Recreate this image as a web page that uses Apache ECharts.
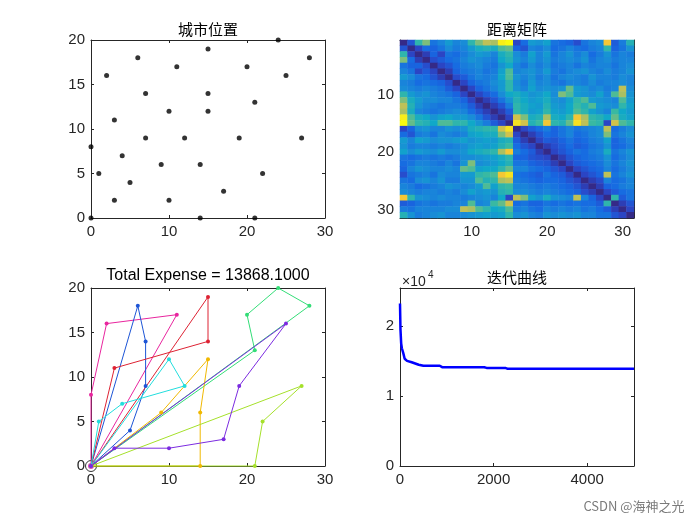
<!DOCTYPE html>
<html>
<head>
<meta charset="utf-8">
<script src="https://cdn.jsdelivr.net/npm/echarts@6/dist/echarts.min.js"></script>
<style>html,body{margin:0;background:#fff}#chart{width:700px;height:525px}</style>
</head>
<body>
<div id="chart"></div>
<script>
// city positions
const cityX = [24,15,6,28,11,20,2,25,7,15,21,10,15,3,7,12,19,27,0,4,9,14,1,22,5,17,3,10,0,14,21]
const cityY = [20,19,18,18,17,17,16,16,14,14,13,12,12,11,9,9,9,9,8,7,6,6,5,5,4,3,2,2,0,0,0]

// distance matrix, upper triangle (row i starts at column i), estimated from the colours
const distRows = [
  [0,6,20,24,10,12,15,12,13,20,24,27,26,33,34,4,9,15,14,16,10,9,8,5,10,12,13,30,7,11,19],
  [0,4,9,8,10,13,11,12,15,18,19,18,22,23,8,6,12,11,13,9,10,12,10,9,11,12,20,8,10,14],
  [0,3,8,4,10,9,11,13,15,14,12,18,20,13,11,16,12,15,10,12,14,11,13,9,11,14,10,12,11],
  [0,5,7,9,10,12,14,13,12,11,17,19,14,12,15,12,14,11,12,13,12,14,10,12,13,11,12,12],
  [0,4,6,9,11,12,13,11,10,14,17,12,10,13,11,13,10,11,12,10,12,11,12,12,10,12,13],
  [0,3,8,10,11,12,10,11,16,22,12,13,14,12,15,11,10,12,13,14,12,11,13,11,12,14],
  [0,5,7,10,12,11,12,17,22,14,12,14,11,13,10,12,13,12,11,14,12,12,11,13,12],
  [0,4,8,10,11,13,15,20,13,11,15,12,13,11,10,12,12,11,13,11,12,12,13,12],
  [0,4,8,10,12,15,20,14,12,16,13,14,13,14,23,15,14,12,13,11,12,27,13],
  [0,4,7,9,13,17,18,16,14,15,17,13,24,22,15,14,13,16,12,22,26,14],
  [0,3,6,10,14,19,17,15,16,18,14,13,16,20,22,15,14,13,12,22,15],
  [0,3,6,11,20,18,16,15,19,15,14,17,21,19,22,15,14,13,20,16],
  [0,3,7,20,18,15,16,20,16,15,17,22,20,16,14,12,21,17,15],
  [0,4,28,24,18,19,26,18,17,20,30,26,20,19,17,23,18,16],
  [0,32,28,19,21,30,20,19,23,32,27,21,20,4,28,22,20],
  [0,4,7,9,11,8,10,12,10,11,12,13,27,9,11,13],
  [0,3,6,9,8,10,12,9,10,12,13,24,10,12,14],
  [0,4,7,6,8,10,8,9,11,12,16,8,10,12],
  [0,3,5,7,9,7,8,10,11,14,8,9,11],
  [0,4,6,8,10,9,11,12,18,10,12,14],
  [0,3,6,8,9,10,11,14,9,11,13],
  [0,4,7,8,9,10,13,10,12,14],
  [0,4,6,8,9,12,9,11,13],
  [0,4,6,8,27,10,12,14],
  [0,3,5,12,9,10,12],
  [0,3,8,9,11,12],
  [0,4,7,9,10],
  [0,20,7,10],
  [0,3,6],
  [0,4],
  [0]
]

// vehicle routes, each leaves and returns to the depot
const routes = [
  { color: '#33dd77', stops: [[0,0],[21,13],[20,17],[24,20],[28,18],[0,0]] },
  { color: '#e8259e', stops: [[0,0],[0,8],[2,16],[11,17],[0,0]] },
  { color: '#1d55d6', stops: [[0,0],[6,18],[7,14],[7,9],[5,4],[0,0]] },
  { color: '#dd2233', stops: [[0,0],[3,11],[15,14],[15,19],[0,0]] },
  { color: '#22dddd', stops: [[0,0],[1,5],[4,7],[12,9],[10,12],[0,0]] },
  { color: '#f0b800', stops: [[0,0],[9,6],[15,12],[14,6],[14,0],[0,0]] },
  { color: '#a5e02a', stops: [[0,0],[27,9],[22,5],[21,0],[0,0]] },
  { color: '#7b2be0', stops: [[0,0],[3,2],[10,2],[17,3],[19,9],[25,16],[0,0]] }
]

// best cost per iteration
const iters = [0,10,25,40,70,100,150,250,400,500,850,900,1800,1850,2250,2300,5000]
const costs = [23200,19500,17500,16800,16100,15300,15000,14800,14450,14300,14300,14100,14100,14000,14000,13868,13868]

const cityIds = Array.from({ length: 31 }, (_, i) => String(i + 1))
// parula-like ramp, weighted towards the blues that dominate the matrix
const parula = ['#352a87','#2a47c8','#1768e2','#1a8ad8','#10a8c8','#3cbaa0','#a0c068','#f4c437','#f9fb0e']

const ink = '#262626'
const labelFont = { fontFamily: 'Liberation Sans, Arial, sans-serif', fontSize: 15, color: ink }
const grids = [
  { left: 91, top: 40, width: 234, height: 178 },
  { left: 400, top: 40, width: 234, height: 178 },
  { left: 91, top: 288, width: 234, height: 178 },
  { left: 400, top: 288, width: 234, height: 178 }
]

const line = { show: true, onZero: false, lineStyle: { color: ink, width: 1 } }
const tick = { show: true, inside: true, length: 3, lineStyle: { color: ink } }

const valueAxis = (g, pos, min, max, interval, fmt) => ({
  type: 'value', gridIndex: g, position: pos, min, max, interval,
  splitLine: { show: false }, axisLine: line, axisTick: tick,
  axisLabel: fmt ? { ...labelFont, margin: 6, formatter: fmt } : { show: false }
})
const catAxis = (g, pos, inverse, labels) => ({
  type: 'category', gridIndex: g, position: pos, data: cityIds, inverse,
  splitLine: { show: false }, axisLine: line,
  axisTick: { ...tick, alignWithLabel: true, interval: i => (i + 1) % 10 === 0 },
  axisLabel: labels ? { ...labelFont, margin: 6, interval: i => (i + 1) % 10 === 0 } : { show: false }
})

const cells = []
distRows.forEach((row, i) => row.forEach((v, k) => {
  const j = i + k
  cells.push([j, i, v])
  if (j !== i) cells.push([i, j, v])
}))

const txt = (x, y, text, size, extra) => ({
  type: 'text', x, y, silent: true,
  style: { text, fontSize: size, fill: '#000', align: 'center', verticalAlign: 'middle',
    fontFamily: 'Liberation Sans, Arial, sans-serif', ...extra }
})
const cjk = { fontFamily: '"Noto Sans CJK SC", sans-serif' }

const chart = echarts.init(document.getElementById('chart'))
chart.setOption({
  animation: false,
  grid: grids,
  xAxis: [
    valueAxis(0, 'bottom', 0, 30, 10, v => v), valueAxis(0, 'top', 0, 30, 10),
    catAxis(1, 'bottom', false, true), catAxis(1, 'top', false, false),
    valueAxis(2, 'bottom', 0, 30, 10, v => v), valueAxis(2, 'top', 0, 30, 10),
    valueAxis(3, 'bottom', 0, 5000, 2000, v => (v % 2000 === 0 ? v : '')), valueAxis(3, 'top', 0, 5000, 2000)
  ],
  yAxis: [
    valueAxis(0, 'left', 0, 20, 5, v => v), valueAxis(0, 'right', 0, 20, 5),
    catAxis(1, 'left', true, true), catAxis(1, 'right', true, false),
    valueAxis(2, 'left', 0, 20, 5, v => v), valueAxis(2, 'right', 0, 20, 5),
    valueAxis(3, 'left', 0, 25400, 10000, v => (v % 10000 === 0 ? v / 10000 : '')), valueAxis(3, 'right', 0, 25400, 10000)
  ],
  visualMap: { show: false, type: 'continuous', min: 0, max: 34, seriesIndex: 1, inRange: { color: parula } },
  series: [
    { type: 'scatter', xAxisIndex: 0, yAxisIndex: 0, clip: false, symbolSize: 5,
      itemStyle: { color: '#000' }, data: cityX.map((x, i) => [x, cityY[i]]) },
    { type: 'heatmap', xAxisIndex: 2, yAxisIndex: 2, data: cells, emphasis: { disabled: true } },
    ...routes.map(r => ({
      type: 'line', xAxisIndex: 4, yAxisIndex: 4, clip: false, data: r.stops,
      symbol: 'circle', symbolSize: 4, showSymbol: true,
      lineStyle: { color: r.color, width: 1 }, itemStyle: { color: r.color }
    })),
    { type: 'scatter', xAxisIndex: 4, yAxisIndex: 4, clip: false, data: [[0, 0]], symbolSize: 11,
      itemStyle: { color: 'rgba(0,0,0,0)', borderColor: '#000', borderWidth: 1 } },
    { type: 'scatter', xAxisIndex: 4, yAxisIndex: 4, clip: false, data: [[0, 0]], symbolSize: 6,
      itemStyle: { color: '#d4199f' } },
    { type: 'line', xAxisIndex: 6, yAxisIndex: 6, showSymbol: false,
      data: iters.map((t, i) => [t, costs[i]]), lineStyle: { color: '#0000ff', width: 2.5 } }
  ],
  graphic: [
    txt(208, 29, '城市位置', 15, cjk),
    txt(517, 29, '距离矩阵', 15, cjk),
    txt(208, 276, 'Total Expense = 13868.1000', 16),
    txt(517, 277, '迭代曲线', 15, cjk),
    txt(402, 282, '×10', 14, { align: 'left', fill: ink }),
    txt(428, 275, '4', 10, { align: 'left', fill: ink }),
    txt(634, 506, 'CSDN @海神之光', 13, { align: 'center', fill: '#7a7a7a', fontFamily: '"Noto Sans CJK SC", sans-serif' })
  ]
})
</script>
</body>
</html>
